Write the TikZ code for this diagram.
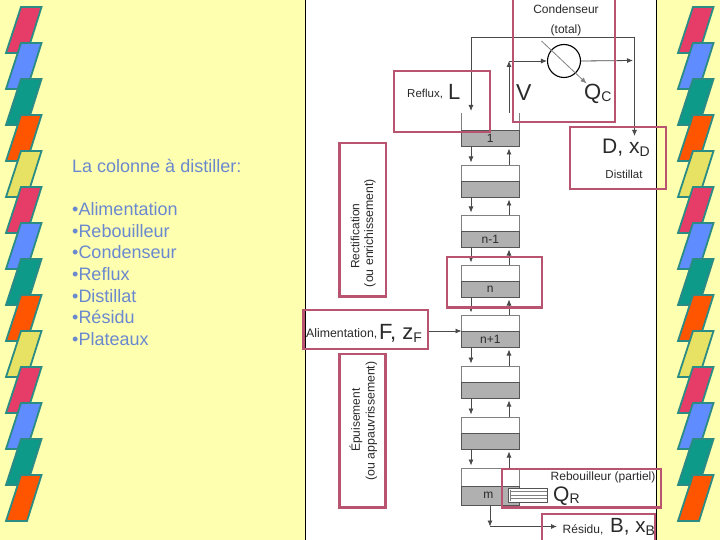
\documentclass[tikz,border=0pt]{standalone}
\usepackage{fontspec}
\setmainfont{Liberation Sans}
\usetikzlibrary{arrows.meta,calc}
\definecolor{bgedge}{HTML}{FFFFB0}
\definecolor{bgmid}{HTML}{FFFFF6}
\definecolor{crim}{HTML}{E63C68}
\definecolor{blu}{HTML}{5F8CFF}
\definecolor{tea}{HTML}{0E9A88}
\definecolor{ora}{HTML}{FF5500}
\definecolor{yel}{HTML}{E8E264}
\definecolor{edgec}{HTML}{2A8C84}
\definecolor{redbox}{HTML}{B85470}
\definecolor{liq}{HTML}{B0B0B0}
\definecolor{ink}{HTML}{2A2A2A}
\definecolor{slide}{HTML}{6A88CE}
\newcommand{\fs}[1]{\fontsize{#1}{#1}\selectfont}
\tikzset{
  x=1pt,y=-1pt,
  leaf/.style={draw=edgec,line width=1.8pt,line join=miter},
  callout/.style={draw=redbox,line width=2.2pt},
  tray/.style={draw=gray,fill=white,line width=.5pt,inner sep=0pt,outer sep=0pt,minimum width=57.5pt,anchor=north west},
  pool/.style={draw=ink!80,fill=liq,line width=.6pt,inner sep=0pt,outer sep=0pt,minimum width=57.5pt,anchor=north west,text=ink},
  flow/.style={draw=ink!85,line width=.8pt,-{Latex[length=6pt,width=5pt]}},
  lab/.style={inner sep=0pt,text=ink},
  vlab/.style={inner sep=0pt,text=ink,rotate=90},
  slidetext/.style={inner sep=0pt,anchor=west,text=slide,font=\fs{18}},
}
\newcommand{\leafat}[3]{\draw[leaf,fill=#3] (#1+15,#2) -- (#1+35.5,#2) -- (#1+21,#2+46) -- (#1,#2+46) -- cycle;}
\newcommand{\leafstrip}[1]{%
  \leafat{#1}{7}{crim}\leafat{#1}{43}{blu}\leafat{#1}{79}{tea}\leafat{#1}{115}{ora}\leafat{#1}{151}{yel}%
  \leafat{#1}{187}{crim}\leafat{#1}{223}{blu}\leafat{#1}{259}{tea}\leafat{#1}{295}{ora}\leafat{#1}{331}{yel}%
  \leafat{#1}{367}{crim}\leafat{#1}{403}{blu}\leafat{#1}{439}{tea}\leafat{#1}{475}{ora}}
% name, top, pool top, bottom, label
\newcommand{\plate}[5]{%
  \pgfmathsetmacro{\hA}{#3-#2}\pgfmathsetmacro{\hB}{#4-#3}%
  \node[tray,minimum height=\hA pt] (#1) at (461.5,#2) {};%
  \node[pool,minimum height=\hB pt,font=\fs{12}] (#1l) at (461.5,#3) {#5};}
\begin{document}
\begin{tikzpicture}
\useasboundingbox (0,0) rectangle (720,540);
\shade[top color=bgedge,middle color=bgmid,bottom color=bgedge] (0,0) rectangle (720,540);
\leafstrip{6}
\leafstrip{678}
% text
\node[slidetext] (title) at (72,166) {La colonne à distiller:};
\node[slidetext] (i1) at (72,209) {•Alimentation};
\node[slidetext] (i2) at (72,231) {•Rebouilleur};
\node[slidetext] (i3) at (72,252) {•Condenseur};
\node[slidetext] (i4) at (72,274) {•Reflux};
\node[slidetext] (i5) at (72,296) {•Distillat};
\node[slidetext] (i6) at (72,317) {•Résidu};
\node[slidetext] (i7) at (72,339) {•Plateaux};
% panel
\fill[white] (305,0) rectangle (656,540);
\draw[black,line width=1pt] (305.5,0) -- (305.5,540) (656,0) -- (656,540);
% plates
\coordinate (L) at (471,0);
\coordinate (R) at (509,0);
\plate{p2}{165}{181}{197}{}
\plate{p3}{215}{231}{247}{n-1}
\plate{p4}{265}{281}{297}{n}
\plate{p5}{315}{331}{347}{n+1}
\plate{p6}{366}{382}{398}{}
\plate{p7}{417}{433}{449}{}
\plate{p8}{468}{486}{505}{\hspace*{-4pt}m}
\node[pool,minimum height=16pt,font=\fs{12}] (p1l) at (461.5,130) {1};
\coordinate (p1top) at (490,113);
\draw[gray,line width=.6pt] (p1l.north west) -- (p1l.north west |- p1top) (p1l.north east) -- (p1l.north east |- p1top);
% tray connectors
\foreach \a/\b in {p1/p2,p2/p3,p3/p4,p4/p5,p5/p6,p6/p7,p7/p8}{
  \draw[flow,shorten >=2.5pt] (\a l.south -| L) -- (\b.north -| L);
  \draw[flow,shorten >=2.5pt] (\b.north -| R) -- (\a l.south -| R);
}
% condenser
\node[draw=black,line width=1.1pt,circle,minimum size=33pt,inner sep=0pt] (cond) at (564,61) {};
\coordinate (topL) at (471,37);
\coordinate (topR) at (634.5,37);
\coordinate (p1L) at (471,113);
\coordinate (distEnd) at (634.5,136);
\coordinate (outEnd) at (633,60.5);
\coordinate (vcorner) at (509,61);
\coordinate (vbase) at (509,113);
\coordinate (qa) at (541.5,41);
\coordinate (qb) at (586.5,83.5);
\draw[flow] (topR) -- (topL) -- ($(p1L)+(0,-2)$);
\draw[flow] (topR) -- (distEnd);
\draw[flow] (cond.east) -- (outEnd);
\draw[flow] (vcorner) -- (cond.west);
\draw[flow] (vbase) -- (vcorner);
\draw[flow,draw=gray] (qa) -- (qb);
% feed
\coordinate (feedstart) at (428,331);
\draw[flow] (feedstart) -- (feedstart -| p5.west);
% residue
\coordinate (resA) at (490,505);
\coordinate (resB) at (490,526.5);
\coordinate (resC) at (557,526.5);
\draw[flow] (resA) -- (resB);
\draw[flow] (resB) -- (resC);
% reboiler
\node[draw=ink!80,fill=white,line width=.7pt,inner sep=0pt,minimum width=38.5pt,minimum height=14pt,anchor=north west] (reb) at (508,488) {};
\draw[gray,line width=.7pt] ($(reb.north west)+(2,3.5)$) -- ($(reb.north east)+(0,3.5)$)
  ($(reb.north west)+(2,7)$) -- ($(reb.north east)+(0,7)$)
  ($(reb.north west)+(2,10.5)$) -- ($(reb.north east)+(0,10.5)$)
  ($(reb.north west)+(2,1.5)$) -- ($(reb.south west)+(2,-1.5)$);
% labels
\node[lab,font=\fs{12}] (tc) at (566,9) {Condenseur};
\node[lab,font=\fs{12}] (tt) at (566,30.5) {(total)};
\node[lab,anchor=west,font=\fs{11.5}] (tr) at (407,94) {Reflux,};
\node[lab,anchor=west,font=\fs{22}] (tl) at (448,92) {L};
\node[lab,anchor=west,font=\fs{23}] (tv) at (516,93) {V};
\node[lab,anchor=west,font=\fs{22}] (tq) at (584,94) {Q\raisebox{-2pt}{\fs{14}C}};
\node[lab,anchor=west,font=\fs{21}] (td) at (602,148) {D, x\raisebox{-3pt}{\fs{14}D}};
\node[lab,font=\fs{11.5}] (tdi) at (624,174) {Distillat};
\node[vlab,font=\fs{12}] (v1) at (355,236) {Rectification};
\node[vlab,font=\fs{12.3}] (v2) at (370,233) {(ou enrichissement)};
\node[vlab,font=\fs{12}] (v3) at (356,420) {Épuisement};
\node[vlab,font=\fs{12.3}] (v4) at (371.5,421) {(ou appauvrissement)};
\node[lab,anchor=west,font=\fs{12.3}] (ta) at (306,334) {Alimentation,};
\node[lab,anchor=west,font=\fs{22}] (tf) at (379,333) {F, z\raisebox{-3pt}{\fs{14}F}};
\node[lab,anchor=west,font=\fs{12}] (trb) at (550.5,477) {Rebouilleur (partiel)};
\node[lab,anchor=west,font=\fs{21}] (tqr) at (553,496) {Q\raisebox{-2pt}{\fs{14}R}};
\node[lab,anchor=west,font=\fs{12}] (tre) at (562.5,530) {Résidu,};
\node[lab,anchor=west,font=\fs{20.5}] (tb) at (610,527) {B, x\raisebox{-3pt}{\fs{14}B}};
% callouts
\draw[callout] (513,-2) rectangle (615,122);
\draw[callout] (394,71) rectangle (490,132);
\draw[callout] (570,127) rectangle (666,189);
\draw[callout] (339.5,143) rectangle (386,296.5);
\draw[callout] (339.5,354) rectangle (385.5,507.5);
\draw[callout] (447,257) rectangle (542,307.5);
\draw[callout] (303.5,310) rectangle (428,349);
\draw[callout] (502,469) rectangle (661,507.5);
\draw[callout] (542,514) rectangle (655,542);
\end{tikzpicture}
\end{document}
